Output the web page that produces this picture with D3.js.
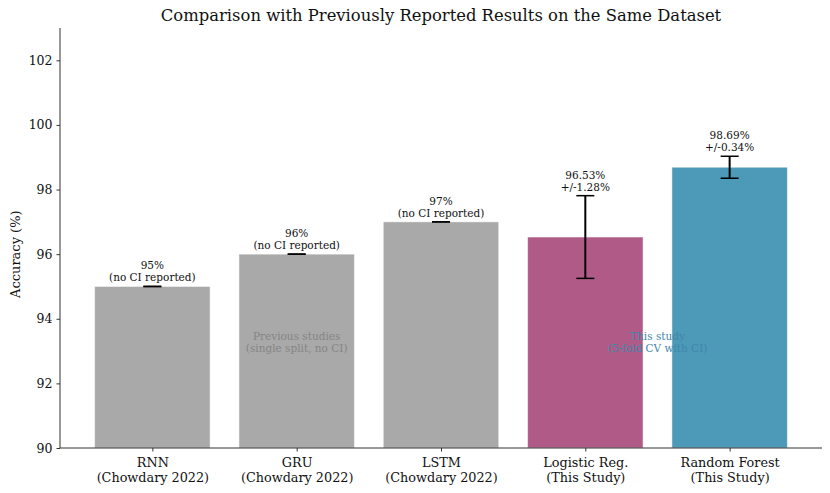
<!DOCTYPE html>
<html>
<head>
<meta charset="utf-8">
<script src="https://cdn.jsdelivr.net/npm/d3@7"></script>
<style>
  body { margin: 0; background: #fff; }
  text { font-family: "DejaVu Serif", serif; }
</style>
</head>
<body>
<div class="chart"></div>
<script>
const models = ['RNN', 'GRU', 'LSTM', 'Logistic Reg.', 'Random Forest'];
const sources = ['(Chowdary 2022)', '(Chowdary 2022)', '(Chowdary 2022)', '(This Study)', '(This Study)'];
const accuracy = [95, 96, 97, 96.53, 98.69];
const ciHalf = [0, 0, 0, 1.28, 0.34];
const valueLabels = ['95%', '96%', '97%', '96.53%', '98.69%'];
const ciLabels = ['(no CI reported)', '(no CI reported)', '(no CI reported)', '+/-1.28%', '+/-0.34%'];
const barColors = ['#a9a9a9', '#a9a9a9', '#a9a9a9', '#b05a87', '#4d99b8'];
const yTicks = [90, 92, 94, 96, 98, 100, 102];

const margin = { top: 28, right: 8, bottom: 45, left: 60 };
const width = 830, height = 493;
const graphWidth = width - margin.left - margin.right;
const graphHeight = height - margin.top - margin.bottom;

const svg = d3.select('.chart')
  .append('svg')
  .attr('width', width)
  .attr('height', height);

const graph = svg.append('g')
  .attr('transform', `translate(${margin.left}, ${margin.top})`);

// index-based linear scale, like matplotlib xlim
const x = d3.scaleLinear().domain([-0.64, 4.64]).range([0, graphWidth]);
const y = d3.scaleLinear().domain([90, 103]).range([graphHeight, 0]);
const step = x(1) - x(0);
const barW = step * 0.8;

// bars
graph.selectAll('rect.bar')
  .data(accuracy)
  .enter()
  .append('rect')
  .attr('class', 'bar')
  .attr('x', (d, i) => x(i) - barW / 2)
  .attr('y', d => y(d))
  .attr('width', barW)
  .attr('height', d => y(90) - y(d))
  .attr('fill', (d, i) => barColors[i])
  .attr('stroke', 'rgba(255,255,255,0.5)')
  .attr('stroke-width', 1);

// error bars
const capW = 18;
const err = graph.append('g').attr('class', 'errors');
accuracy.forEach((d, i) => {
  const cx = x(i);
  const top = y(d + ciHalf[i]);
  const bot = y(d - ciHalf[i]);
  err.append('line')
    .attr('x1', cx).attr('x2', cx)
    .attr('y1', top).attr('y2', bot)
    .attr('stroke', '#000').attr('stroke-width', 2);
  [top, bot].forEach(yy => {
    err.append('line')
      .attr('x1', cx - capW / 2).attr('x2', cx + capW / 2)
      .attr('y1', yy).attr('y2', yy)
      .attr('stroke', '#000').attr('stroke-width', 1.5);
  });
});

// value labels
accuracy.forEach((d, i) => {
  const topY = y(d + ciHalf[i]) - 5;
  const t = graph.append('text')
    .attr('x', x(i))
    .attr('y', topY)
    .attr('text-anchor', 'middle')
    .attr('font-size', 10.5)
    .attr('fill', '#111');
  t.append('tspan').attr('x', x(i)).attr('dy', -12).text(valueLabels[i]);
  t.append('tspan').attr('x', x(i)).attr('dy', 12).text(ciLabels[i]);
});

// group annotations
const note = (cx, cy, lines, color) => {
  const t = graph.append('text')
    .attr('text-anchor', 'middle')
    .attr('font-size', 10.5)
    .attr('fill', color);
  lines.forEach((l, k) => {
    t.append('tspan').attr('x', cx).attr('y', cy + k * 12).text(l);
  });
};
note(x(1), y(93.35), ['Previous studies', '(single split, no CI)'], '#858585');
note(x(3.5), y(93.35), ['This study', '(5-fold CV with CI)'], '#3f87ab');

// axes
const yAxis = d3.axisLeft(y).tickValues(yTicks).tickSize(3.5).tickPadding(4);
const xAxis = d3.axisBottom(x).tickValues(d3.range(models.length)).tickSize(3.5).tickFormat('');

const yAxisGroup = graph.append('g').attr('class', 'y-axis').call(yAxis);
const xAxisGroup = graph.append('g').attr('class', 'x-axis')
  .attr('transform', `translate(0, ${graphHeight})`)
  .call(xAxis);

[yAxisGroup, xAxisGroup].forEach(g => {
  g.select('.domain').attr('stroke', '#333').attr('stroke-width', 1);
  g.selectAll('.tick line').attr('stroke', '#333');
});
yAxisGroup.select('.domain').attr('d', `M0,${graphHeight}V0`);
xAxisGroup.select('.domain').attr('d', `M0,0H${graphWidth}`);
yAxisGroup.selectAll('text')
  .attr('font-size', 12.5)
  .attr('font-family', 'DejaVu Serif')
  .attr('fill', '#111');

// two-line category labels
xAxisGroup.selectAll('.tick').each(function (d) {
  const t = d3.select(this).append('text')
    .attr('text-anchor', 'middle')
    .attr('font-size', 12.8)
    .attr('fill', '#111');
  t.append('tspan').attr('x', 0).attr('y', 19).text(models[d]);
  t.append('tspan').attr('x', 0).attr('y', 34).text(sources[d]);
});

// axis title
svg.append('text')
  .attr('transform', `translate(20, ${margin.top + y(96)}) rotate(-90)`)
  .attr('text-anchor', 'middle')
  .attr('font-size', 13)
  .attr('fill', '#111')
  .text('Accuracy (%)');

// chart title
svg.append('text')
  .attr('x', margin.left + x(2))
  .attr('y', 21)
  .attr('text-anchor', 'middle')
  .attr('font-size', 16.4)
  .attr('fill', '#111')
  .text('Comparison with Previously Reported Results on the Same Dataset');
</script>
</body>
</html>
